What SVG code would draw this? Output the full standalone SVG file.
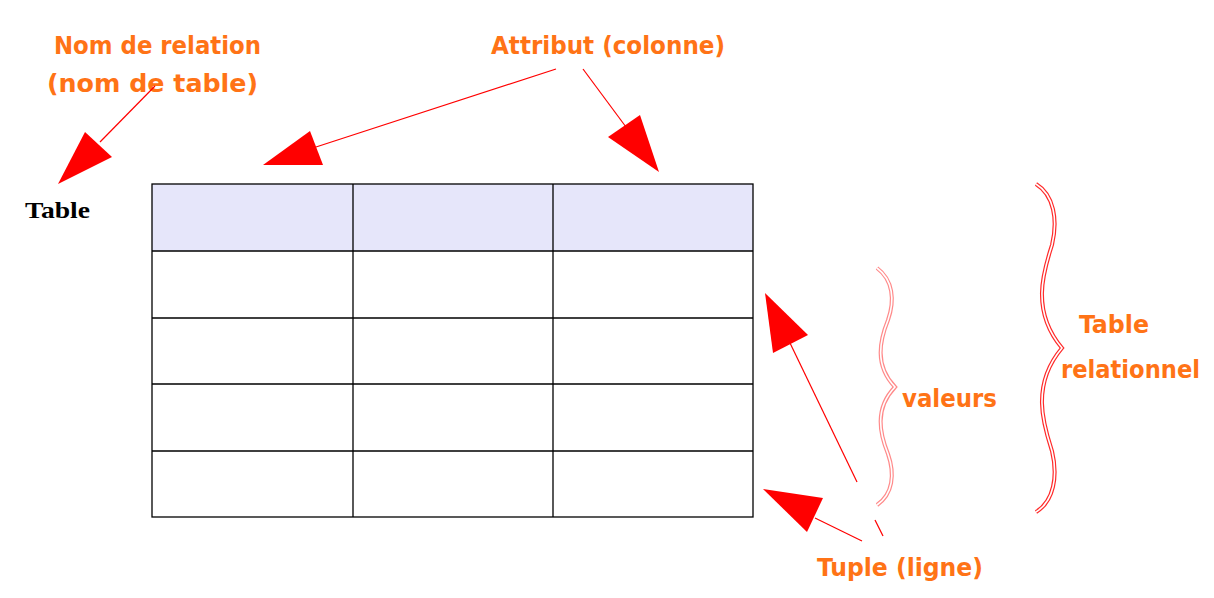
<svg xmlns="http://www.w3.org/2000/svg" width="1214" height="598" viewBox="0 0 1214 598">
<defs>
<style>
.lbl{font-family:"DejaVu Sans Condensed","DejaVu Sans","Liberation Sans",sans-serif;font-stretch:condensed;font-weight:bold;fill:#ff7316;font-size:24px}
.grid{stroke:#000;stroke-width:1.3;fill:none}
.ln{stroke:#ff0000;stroke-width:1.2;fill:none}
.head{fill:#ff0000;stroke:none}
.braceO{fill:none;stroke-width:4}
.braceI{fill:none;stroke:#fff;stroke-width:1.6}
</style>
</defs>
<rect width="1214" height="598" fill="#fff"/>
<g id="table">
<rect x="152" y="184" width="601" height="67" fill="#e6e6fa"/>
<rect x="152" y="184" width="601" height="333" class="grid"/>
<path class="grid" d="M353,184V517M553,184V517M152,251H753M152,318H753M152,384H753M152,451H753"/>
</g>
<g id="table-name">
<text x="25" y="218" font-family="'Liberation Serif',serif" font-weight="bold" font-size="23" fill="#000" textLength="65" lengthAdjust="spacingAndGlyphs">Table</text>
</g>
<g id="label-nom">
<text class="lbl" x="54" y="54" textLength="207" lengthAdjust="spacingAndGlyphs">Nom de relation</text>
<text class="lbl" x="47" y="92" textLength="211" lengthAdjust="spacingAndGlyphs">(nom de table)</text>
</g>
<g id="label-attribut">
<text class="lbl" x="491" y="54" textLength="234" lengthAdjust="spacingAndGlyphs">Attribut (colonne)</text>
</g>
<g id="label-valeurs">
<text class="lbl" x="902" y="407" textLength="95" lengthAdjust="spacingAndGlyphs">valeurs</text>
</g>
<g id="label-table-rel">
<text class="lbl" x="1079" y="333" textLength="70" lengthAdjust="spacingAndGlyphs">Table</text>
<text class="lbl" x="1061" y="378" textLength="139" lengthAdjust="spacingAndGlyphs">relationnel</text>
</g>
<g id="label-tuple">
<text class="lbl" x="817" y="576" textLength="166" lengthAdjust="spacingAndGlyphs">Tuple (ligne)</text>
</g>
<g id="brace-valeurs">
<path class="braceO" stroke="#ff8a8a" d="M877,268 C893,280 895,300 888,320 C880,340 874,365 895,387 C874,409 880,434 888,454 C895,474 893,494 877,505"/>
<path class="braceI" d="M877,268 C893,280 895,300 888,320 C880,340 874,365 895,387 C874,409 880,434 888,454 C895,474 893,494 877,505"/>
</g>
<g id="brace-table">
<path class="braceO" stroke="#ff2a2a" d="M1036,184 C1054,195 1058,220 1052,245 C1044,270 1030,310 1062,348 C1030,386 1044,426 1052,451 C1058,476 1054,501 1036,512"/>
<path class="braceI" d="M1036,184 C1054,195 1058,220 1052,245 C1044,270 1030,310 1062,348 C1030,386 1044,426 1052,451 C1058,476 1054,501 1036,512"/>
</g>
<g id="connectors">
<line class="ln" x1="155" y1="86" x2="100" y2="142"/>
<polygon class="head" points="58,184 85,132 112,157"/>
<line class="ln" x1="556" y1="69" x2="316" y2="147"/>
<polygon class="head" points="263,165 310,131 323,165"/>
<line class="ln" x1="583" y1="69" x2="626" y2="127"/>
<polygon class="head" points="659,172 608,137 640,115"/>
<line class="ln" x1="857" y1="482" x2="790" y2="343"/>
<polygon class="head" points="765,293 773,353 808,335"/>
<line class="ln" x1="862" y1="541" x2="815" y2="518"/>
<polygon class="head" points="763,489 823,498 807,532"/>
<line class="ln" x1="875" y1="520" x2="883" y2="536"/>
</g>
</svg>
